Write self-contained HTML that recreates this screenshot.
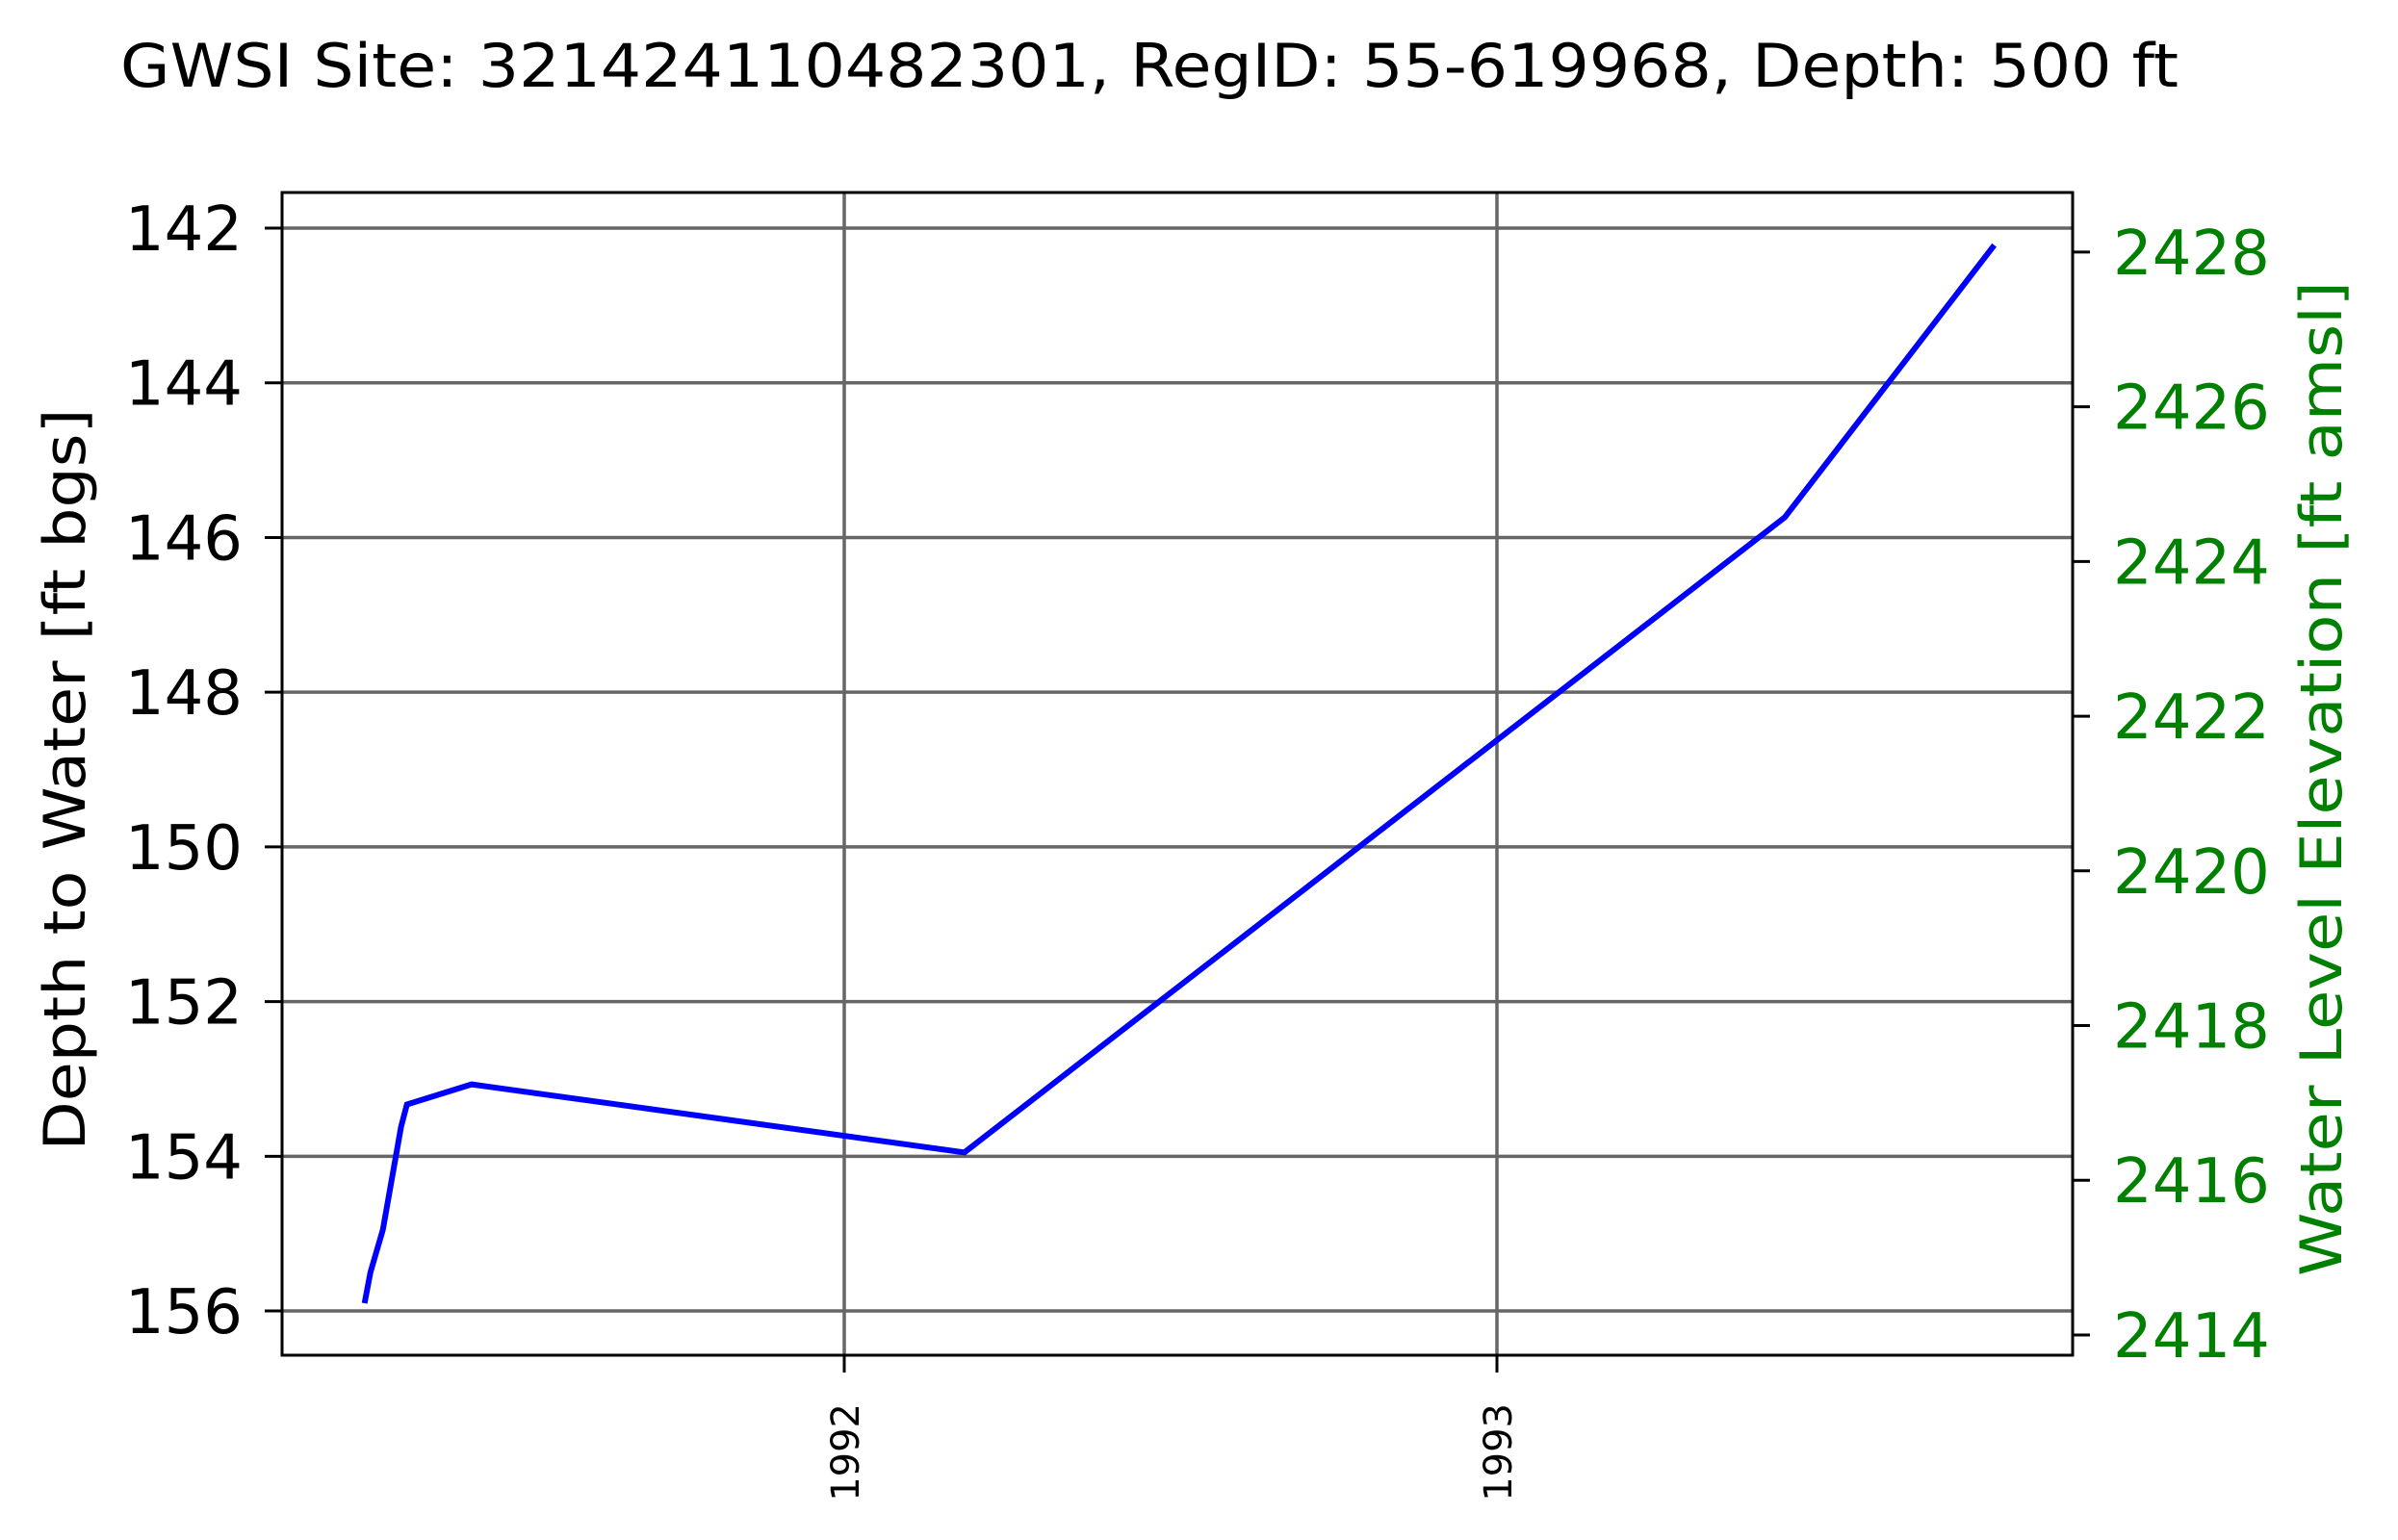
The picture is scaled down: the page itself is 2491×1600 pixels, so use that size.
<!DOCTYPE html>
<html><head><meta charset="utf-8"><style>
html,body{margin:0;padding:0;background:#fff}
svg{display:block;font-family:"DejaVu Sans","Liberation Sans",sans-serif}
</style></head><body>
<svg id="chart" width="2491" height="1600" viewBox="0 0 2491 1600" xmlns="http://www.w3.org/2000/svg">
<rect width="2491" height="1600" fill="#fff"/>
<text x="125" y="90" font-size="62" textLength="2138" lengthAdjust="spacingAndGlyphs">GWSI Site: 321424110482301, RegID: 55-619968, Depth: 500 ft</text>
<g id="grid"></g>
<g id="series"></g>
<rect x="293" y="200" width="1860" height="1208" fill="none" stroke="#000" stroke-width="3"/>
<g id="axes"></g>
<text transform="translate(88,810) rotate(-90)" text-anchor="middle" font-size="60" textLength="771" lengthAdjust="spacingAndGlyphs">Depth to Water [ft bgs]</text>
<text transform="translate(2432,809) rotate(-90)" text-anchor="middle" font-size="60" fill="#008000" textLength="1034" lengthAdjust="spacingAndGlyphs">Water Level Elevation [ft amsl]</text>
</svg>
<script>
const dates=[1991.265,1991.274,1991.293,1991.321,1991.330,1991.429,1992.184,1993.441,1993.762];
const depths=[155.9,155.5,154.95,153.62,153.33,153.07,153.95,145.74,142.22];
const depthTicks=[142,144,146,148,150,152,154,156];
const elevTicks=[2414,2416,2418,2420,2422,2424,2426,2428];
const yearTicks=[1992,1993];
const landSurface=2570.31;
const NS='http://www.w3.org/2000/svg';
const L=293,R=2153,T=200,B=1408;
function xs(d){return 1555+(d-1993)*678;}
function ys(v){return 237+(v-142)*80.36;}
function ye(e){return ys(landSurface-e);}
function mk(tag,attrs,parent){const el=document.createElementNS(NS,tag);for(const k in attrs)el.setAttribute(k,attrs[k]);parent.appendChild(el);return el;}
const grid=document.getElementById('grid'),axes=document.getElementById('axes'),series=document.getElementById('series');
depthTicks.forEach(v=>{const y=ys(v);
 let g=mk('line',{x1:L,x2:R,y1:y,y2:y,stroke:'#666','stroke-width':3.5},grid);
 
 
 let t=mk('line',{x1:L-18,x2:L,y1:y,y2:y,stroke:'#000','stroke-width':3},axes);
 
 
 let tx=mk('text',{x:252,y:y+23,'text-anchor':'end','font-size':64},axes);tx.textContent=v;
 
 
});
elevTicks.forEach(v=>{const y=ye(v);
 let t=mk('line',{x1:R,x2:R+18,y1:y,y2:y,stroke:'#000','stroke-width':3},axes);
 
 
 let tx=mk('text',{x:2195,y:y+23,'font-size':64,fill:'#008000'},axes);tx.textContent=v;
 
 
});
yearTicks.forEach(v=>{const x=xs(v);
 let g=mk('line',{x1:x,x2:x,y1:T,y2:B,stroke:'#666','stroke-width':3.5},grid);
 
 
 let t=mk('line',{x1:x,x2:x,y1:B,y2:B+18,stroke:'#000','stroke-width':3},axes);
 
 
 let tx=mk('text',{transform:`translate(${x+15},1458) rotate(-90)`,'text-anchor':'end','font-size':40},axes);tx.textContent=v;
 
 
});
const pts=dates.map((d,i)=>xs(d).toFixed(1)+','+ys(depths[i]).toFixed(1)).join(' ');
let pl=mk('polyline',{points:pts,fill:'none',stroke:'#0000ff','stroke-width':6,'stroke-linejoin':'miter'},series);


</script>
</body></html>
